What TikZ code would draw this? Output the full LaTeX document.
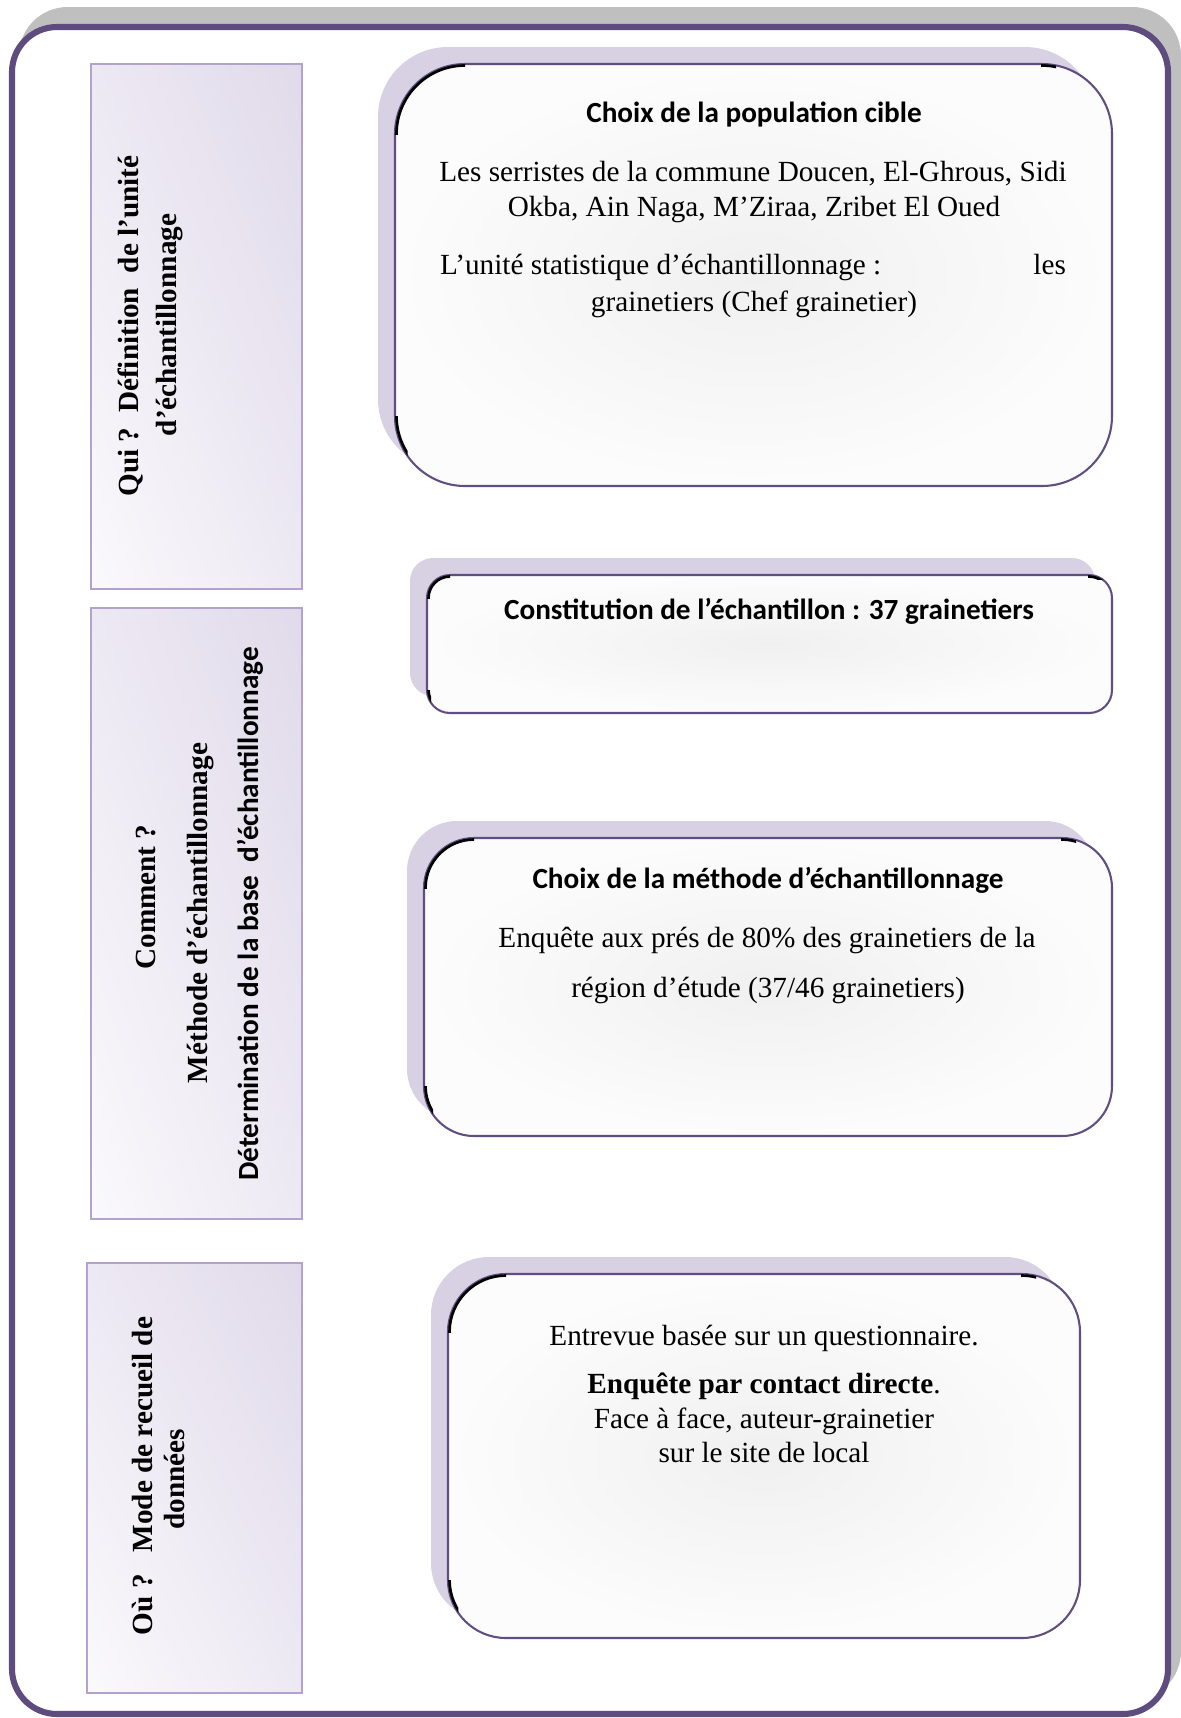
\documentclass[tikz,border=0pt]{standalone}
\usepackage{fontspec}
\setmainfont{Liberation Serif}
\newfontfamily\calibri{Carlito}
\usetikzlibrary{fit,calc,shadings}

\definecolor{framepurple}{RGB}{94,76,126}
\definecolor{framegray}{RGB}{191,191,191}
\definecolor{lavshadow}{RGB}{216,208,227}
\definecolor{tagedge}{RGB}{179,162,205}
\definecolor{tagtop}{RGB}{224,218,234}
\definecolor{tagmid}{RGB}{237,233,243}
\definecolor{taglow}{RGB}{250,249,252}
\definecolor{panelline}{RGB}{96,78,128}
\definecolor{panelcore}{RGB}{240,240,240}
\definecolor{panelrim}{RGB}{252,252,252}

\newcommand\pu{0.4107pt}

% one rounded panel: name, x0, y0, x1, y1, corner radius (all in px units)
\newcommand\panelbox[6]{%
  \fill[lavshadow, rounded corners={#6*\pu}] (#2-17,#3-17) rectangle (#4-17,#5-17);
  \node[panel, rounded corners={#6*\pu}, fit={(#2,#3)(#4,#5)}] (#1) {};
  \begin{scope}
    \clip (#2-4,#3-4) rectangle (#2+#6,#3+#6);
    \draw[inkmark, rounded corners={(#6-1.5)*\pu}] (#2+1.5,#3+1.5) rectangle (#4-1.5,#5-1.5);
  \end{scope}
  \begin{scope}
    \clip (#2-4,#5-#6) rectangle (#2+0.18*#6,#5-0.42*#6);
    \draw[inkmark, rounded corners={(#6-1.5)*\pu}] (#2+1.5,#3+1.5) rectangle (#4-1.5,#5-1.5);
  \end{scope}
  \begin{scope}
    \clip (#4-#6-1,#3-4) rectangle (#4-#6+14,#3+4);
    \draw[inkmark, rounded corners={(#6-1.5)*\pu}] (#2+1.5,#3+1.5) rectangle (#4-1.5,#5-1.5);
  \end{scope}
}

\tikzset{
  panel/.style={draw=panelline, line width=0.85pt, inner sep=0pt,
    shade, inner color=panelcore, outer color=panelrim},
  inkmark/.style={draw=black, line width=1.1pt},
  tagbox/.style={draw=tagedge, line width=0.9pt, inner sep=0pt, shade,
    upper right=tagtop, upper left=tagmid, lower right=tagmid, lower left=taglow},
  body/.style={anchor=base, inner sep=0pt, font=\fontsize{12pt}{14pt}\selectfont},
  heading/.style={anchor=base, inner sep=0pt, font=\fontsize{12pt}{14pt}\selectfont\calibri\bfseries},
  sidetext/.style={rotate=90, anchor=base, inner sep=0pt, font=\fontsize{12pt}{14pt}\selectfont\bfseries},
}

\begin{document}
\begin{tikzpicture}[x=0.4107pt, y=-0.4107pt]
\useasboundingbox (0,0) rectangle (1181,1718);
\fill[white] (0,0) rectangle (1181,1718);

% outer frame with its grey offset shadow
\fill[framegray, rounded corners=20pt] (19,7) rectangle (1181,1700);
\node[draw=framepurple, line width=2.5pt, fill=white, rounded corners=18.5pt,
      inner sep=0pt, fit={(12,27)(1168,1714)}] (frame) {};

% left-hand question boxes
\node[tagbox, fit={(91,64)(302,589)}] (qbox1) {};
\node[tagbox, fit={(91,608)(302,1219)}] (qbox2) {};
\node[tagbox, fit={(87,1263)(302,1693)}] (qbox3) {};

% right-hand answer panels
\panelbox{pbox1}{395}{64}{1112}{486}{70}
\panelbox{pbox2}{427}{575}{1112}{713}{23}
\panelbox{pbox3}{424}{838}{1112}{1136}{50}
\panelbox{pbox4}{448}{1274}{1080}{1638}{58}

% questions
\node[sidetext] (q1a) at (138,326) {Qui ?\ \ Définition\ \ de l’unité};
\node[sidetext] (q1b) at (176,325) {d’échantillonnage};

\node[sidetext] (q2a) at (155,897) {Comment ?};
\node[sidetext] (q2b) at (207,913) {Méthode d’échantillonnage};
\node[sidetext, font=\fontsize{12pt}{14pt}\selectfont\calibri\bfseries] (q2c) at (258,914)
  {Détermination de la base\ \ d’échantillonnage};

\node[sidetext] (q3a) at (152,1476) {Où ?\ \ \ Mode de recueil de};
\node[sidetext] (q3b) at (184,1479) {données};

% panel 1
\node[heading] (h1) at (754,122) {Choix de la population cible};
\node[body] (p1a) at (753,181) {Les serristes de la commune Doucen, El-Ghrous, Sidi};
\node[body] (p1b) at (754,216) {Okba, Ain Naga, M’Ziraa, Zribet El Oued};
\node[body] (p1c) at (753,274) {\hbox to 257pt{L’unité statistique d’échantillonnage :\hfill les}};
\node[body] (p1d) at (754,311) {grainetiers (Chef grainetier)};

% panel 2
\node[heading] (h2) at (769,619) {Constitution de l’échantillon : 37 grainetiers};

% panel 3
\node[heading] (h3) at (768,888) {Choix de la méthode d’échantillonnage};
\node[body] (p3a) at (767,947) {Enquête aux prés de 80\% des grainetiers de la};
\node[body] (p3b) at (768,997) {région d’étude (37/46 grainetiers)};

% panel 4
\node[body] (p4a) at (764,1345) {Entrevue basée sur un questionnaire.};
\node[body] (p4b) at (764,1393) {\textbf{Enquête par contact directe}.};
\node[body] (p4c) at (764,1428) {Face à face, auteur-grainetier};
\node[body] (p4d) at (764,1462) {sur le site de local};
\end{tikzpicture}
\end{document}
